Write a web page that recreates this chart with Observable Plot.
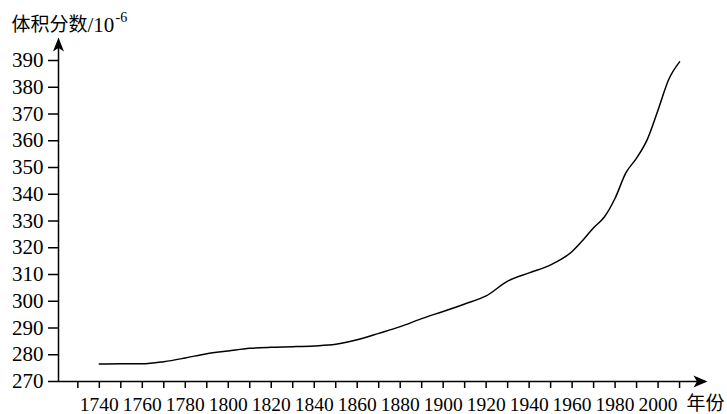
<!DOCTYPE html>
<html>
<head>
<meta charset="utf-8">
<script src="https://cdn.jsdelivr.net/npm/d3@7"></script>
<script src="https://cdn.jsdelivr.net/npm/@observablehq/plot@0.6"></script>
<style>
  html, body { margin: 0; padding: 0; background: #fff; }
  svg { display: block; }
</style>
</head>
<body>
<div id="chart"></div>
<script>
const years  = [1740,1750,1760,1770,1780,1790,1800,1810,1820,1830,1840,1850,1860,1870,1880,1890,1900,1910,1920,1930,1940,1950,1960,1965,1970,1975,1980,1985,1990,1995,2000,2005,2010];
const values = [276.5,276.6,276.6,277.4,278.8,280.4,281.4,282.4,282.8,283.0,283.3,283.9,285.6,288.0,290.5,293.5,296.2,299.0,302.0,307.5,310.6,313.6,318.6,322.8,327.5,331.5,338.5,348.0,353.5,360.5,371.5,383.0,389.5];
const yTicks = [270,280,290,300,310,320,330,340,350,360,370,380,390];
const xTicks = [1730,1740,1750,1760,1770,1780,1790,1800,1810,1820,1830,1840,1850,1860,1870,1880,1890,1900,1910,1920,1930,1940,1950,1960,1970,1980,1990,2000,2010];
const xLabels = [1740,1760,1780,1800,1820,1840,1860,1880,1900,1920,1940,1960,1980,2000];
const yTitleCN = "体积分数";
const yTitleUnit = "/10";
const yTitleExp = "-6";
const xTitle = "年份";

const data = years.map((t, i) => ({year: t, v: values[i]}));
const X0 = 1721, X1 = 2023, Y0 = 270, Y1 = 398.6;

const arrowHead = {
  draw(ctx) {
    ctx.moveTo(0, 0);
    ctx.lineTo(5.5, 14);
    ctx.lineTo(0, 10.5);
    ctx.lineTo(-5.5, 14);
    ctx.closePath();
  }
};
const arrowHeadX = {
  draw(ctx) {
    ctx.moveTo(0, 0);
    ctx.lineTo(-14, -6);
    ctx.lineTo(-10.5, 0);
    ctx.lineTo(-14, 6);
    ctx.closePath();
  }
};

const serif = "Liberation Serif";
const cjk = "Noto Sans CJK SC";

const chart = Plot.plot({
  width: 727,
  height: 414,
  marginLeft: 58,
  marginRight: 20,
  marginTop: 37,
  marginBottom: 33,
  style: {color: "#000", background: "#fff"},
  x: {domain: [X0, X1], axis: null},
  y: {domain: [Y0, Y1], axis: null},
  marks: [
    Plot.axisY({ticks: yTicks, tickSize: 10, tickPadding: 5, fontSize: 21, fontFamily: serif, tickFormat: d => String(d), stroke: "#000", strokeWidth: 1.5}),
    Plot.axisX({ticks: xTicks, tickSize: 7, tickPadding: 9, fontSize: 19.5, fontFamily: serif, stroke: "#000", strokeWidth: 1.5,
      tickFormat: d => xLabels.includes(d) ? String(d) : ""}),
    Plot.ruleY([Y0], {x1: X0, x2: X1 - 1, stroke: "#000", strokeWidth: 1.5}),
    Plot.ruleX([X0], {y1: Y0, y2: Y1 - 2, stroke: "#000", strokeWidth: 1.5}),
    Plot.dot([{x: X0, y: Y1}], {x: "x", y: "y", symbol: arrowHead, fill: "#000", stroke: "none", r: 5}),
    Plot.dot([{x: X1, y: Y0}], {x: "x", y: "y", symbol: arrowHeadX, fill: "#000", stroke: "none", r: 5}),
    Plot.line(data, {x: "year", y: "v", curve: "monotone-x", stroke: "#000", strokeWidth: 1.5}),
    Plot.text([yTitleCN], {frameAnchor: "top-left", dx: -47, dy: -13, lineAnchor: "middle", textAnchor: "start", fontSize: 19, fontFamily: cjk, fill: "#000"}),
    Plot.text([yTitleUnit], {frameAnchor: "top-left", dx: 29, dy: -12, lineAnchor: "middle", textAnchor: "start", fontSize: 21, fontFamily: serif, fill: "#000"}),
    Plot.text([yTitleExp], {frameAnchor: "top-left", dx: 57, dy: -20, lineAnchor: "middle", textAnchor: "start", fontSize: 14, fontFamily: serif, fill: "#000"}),
    Plot.text([xTitle], {frameAnchor: "bottom-right", dx: -21, dy: 22, lineAnchor: "middle", textAnchor: "start", fontSize: 19, fontFamily: cjk, fill: "#000"})
  ]
});
document.getElementById("chart").appendChild(chart);
</script>
</body>
</html>
